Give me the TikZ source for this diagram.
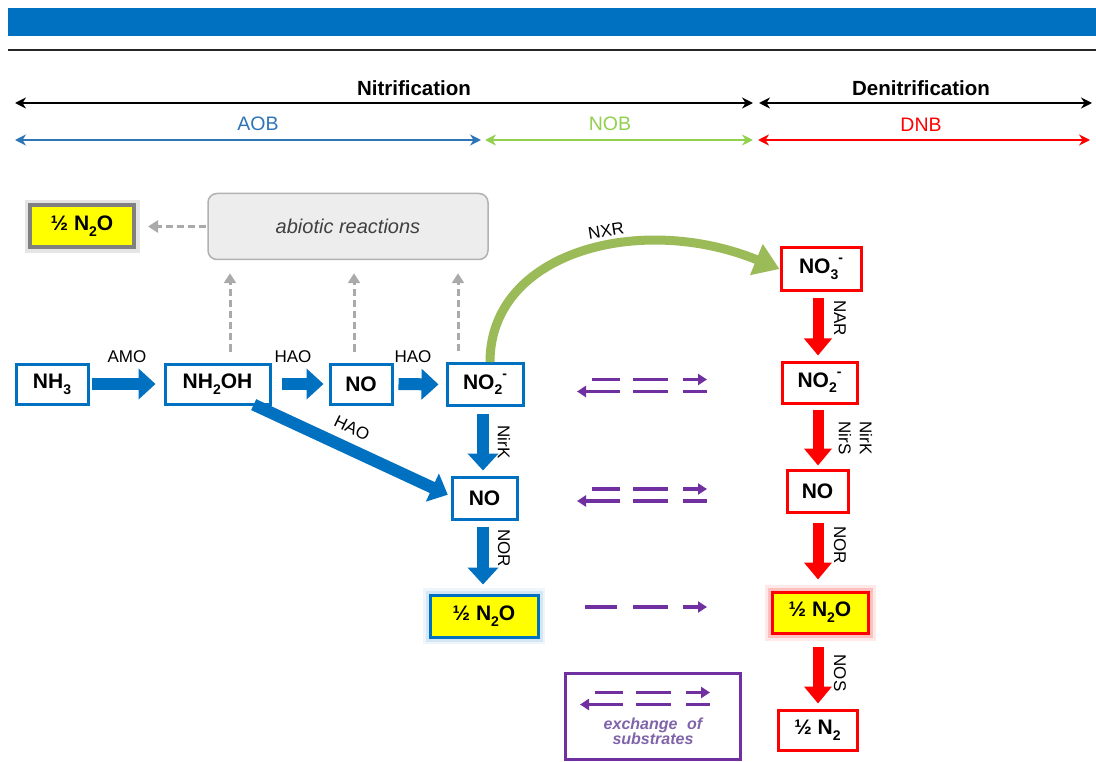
\documentclass[tikz,border=0pt]{standalone}
\usepackage{fontspec}
\setmainfont{Liberation Sans}
\usetikzlibrary{arrows.meta,calc}
\definecolor{bbar}{RGB}{0,112,192}
\definecolor{bl}{RGB}{0,112,192}
\definecolor{rd}{RGB}{255,0,0}
\definecolor{grn}{RGB}{155,187,89}
\definecolor{pu}{RGB}{112,48,160}
\definecolor{pul}{RGB}{128,100,170}
\definecolor{aobc}{RGB}{46,117,182}
\definecolor{nobc}{RGB}{146,208,80}
\definecolor{gy}{RGB}{170,170,170}
\definecolor{yel}{RGB}{255,255,0}
\newcommand\dn[1]{\raisebox{-0.28em}{\fontsize{14}{14}\selectfont #1}}
\newcommand\upm[1]{\raisebox{0.5em}{\fontsize{14}{14}\selectfont #1}}
\tikzset{
  boxb/.style={draw=bl,line width=3pt,fill=white,inner sep=0pt,font=\fontsize{21}{21}\selectfont\bfseries},
  boxr/.style={draw=rd,line width=3pt,fill=white,inner sep=0pt,font=\fontsize{21}{21}\selectfont\bfseries},
  bglow/.style={preaction={draw=bl!40,line width=14pt,opacity=.15},preaction={draw=bl!40,line width=9pt,opacity=.3}},
  rglow/.style={preaction={draw=rd!60,line width=15pt,opacity=.15},preaction={draw=rd!60,line width=9pt,opacity=.3}},
  gglow/.style={preaction={draw=black!50,line width=11pt,opacity=.2}},
  enz/.style={font=\fontsize{17}{17}\selectfont,inner sep=1pt},
  bluearr/.style={draw=bl,line width=12pt,-{Triangle[length=17pt,width=30pt]}},
  redarr/.style={draw=rd,line width=11pt,-{Triangle[length=17pt,width=27pt]}},
  grayarr/.style={draw=gy,line width=3pt,dash pattern=on 7pt off 4pt,-{Triangle[length=10pt,width=12pt]}},
  exl/.style={draw=pu,line width=3.5pt},
  exh/.style={-{Triangle[length=9pt,width=11pt]}},
  hdr/.style={line width=2.5pt,{Stealth[length=11pt,width=11pt]}-{Stealth[length=11pt,width=11pt]}},
  exch/.pic={
    \draw[exl] (-50,-6) -- (-22,-6);
    \draw[exl] (-9,-6) -- (26,-6);
    \draw[exl,exh] (41,-6) -- (65,-6);
    \draw[exl,exh] (-22,6) -- (-65,6);
    \draw[exl] (-9,6) -- (26,6);
    \draw[exl] (41,6) -- (65,6);
  }
}
\begin{document}
\begin{tikzpicture}[x=1pt,y=-1pt]
\useasboundingbox (0,0) rectangle (1096,762);
\fill[white] (0,0) rectangle (1096,762);
% title bar and rule
\fill[bbar] (8,8) rectangle (1096,36);
\draw[line width=1.8pt,black!85] (8,50) -- (1096,50);
% headers
\coordinate (n1) at (15,103); \coordinate (n2) at (753,103);
\coordinate (d1) at (759,103); \coordinate (d2) at (1092,103);
\draw[hdr,black] (n1) -- (n2);
\draw[hdr,black] (d1) -- (d2);
\node[font=\fontsize{20.5}{20.5}\selectfont\bfseries] (tnit) at (414,88) {Nitrification};
\node[font=\fontsize{20.5}{20.5}\selectfont\bfseries] (tden) at (921,88) {Denitrification};
\coordinate (a1) at (15,140); \coordinate (a2) at (481,140);
\coordinate (b1) at (485,140); \coordinate (b2) at (753,140);
\coordinate (c1) at (758,140); \coordinate (c2) at (1090,140);
\draw[hdr,aobc] (a1) -- (a2);
\draw[hdr,nobc] (b1) -- (b2);
\draw[hdr,rd] (c1) -- (c2);
\node[font=\fontsize{19.5}{19.5}\selectfont,text=aobc] (taob) at (258,124) {AOB};
\node[font=\fontsize{19.5}{19.5}\selectfont,text=nobc] (tnob) at (610,124) {NOB};
\node[font=\fontsize{19.5}{19.5}\selectfont,text=rd] (tdnb) at (921,125) {DNB};
% abiotic
\node[draw=black!30,fill=black!7,rounded corners=9pt,line width=1.5pt,minimum width=280pt,minimum height=66pt,font=\fontsize{20}{20}\selectfont\itshape,text=black!75] (abio) at (348,226.5) {abiotic reactions};
\node[draw=black!50,fill=yel,line width=4pt,gglow,inner sep=0pt,minimum width=104pt,minimum height=42pt,font=\fontsize{21}{21}\selectfont\bfseries] (n2oa) at (82,226.5) {½ N\dn{2}O};
% blue nodes
\node[boxb,minimum width=72pt,minimum height=40pt] (nh3) at (52,384) {NH\dn{3}};
\node[boxb,minimum width=105pt,minimum height=40pt] (nh2oh) at (217.5,384) {NH\dn{2}OH};
\node[boxb,minimum width=62pt,minimum height=40pt] (no1) at (361,384) {NO};
\node[boxb,minimum width=76pt,minimum height=42pt] (no2b) at (485,384.5) {NO\dn{2}\upm{-}};
\node[boxb,minimum width=65pt,minimum height=42pt] (nob) at (484.5,498) {NO};
\node[boxb,bglow,fill=yel,minimum width=108pt,minimum height=42pt] (n2ob) at (484,616) {½ N\dn{2}O};
% red nodes
\node[boxr,minimum width=80pt,minimum height=43pt] (no3r) at (821,269) {NO\dn{3}\upm{-}};
\node[boxr,minimum width=75pt,minimum height=41pt] (no2r) at (819.5,382.5) {NO\dn{2}\upm{-}};
\node[boxr,minimum width=61pt,minimum height=42pt] (nor) at (817.5,491) {NO};
\node[boxr,rglow,fill=yel,minimum width=96pt,minimum height=41pt] (n2or) at (820,612.5) {½ N\dn{2}O};
\node[boxr,minimum width=79pt,minimum height=40pt] (n2r) at (817.5,730) {½ N\dn{2}};
% blue arrows
\draw[bluearr,shorten <=2pt,shorten >=8pt] (nh3.east) -- (nh2oh.west);
\draw[bluearr,shorten <=10pt,shorten >=5pt] (nh2oh.east) -- (no1.west);
\draw[bluearr,shorten <=5pt,shorten >=7pt] (no1.east) -- (no2b.west);
\draw[bluearr,shorten <=-2pt,shorten >=3pt] ([xshift=-16pt]nh2oh.south east) -- ([yshift=2pt]nob.west);
\draw[bluearr,shorten <=7pt,shorten >=5pt] ([xshift=-2pt]no2b.south) -- ([xshift=-2pt]no2b.south |- nob.north);
\draw[bluearr,shorten <=6pt,shorten >=9pt] ([xshift=-1.5pt]nob.south) -- ([xshift=-1.5pt]nob.south |- n2ob.north);
\node[enz] (lamo) at (127,357) {AMO};
\node[enz] (lhao1) at (293,357) {HAO};
\node[enz] (lhao2) at (413,357) {HAO};
\node[enz,rotate=-26] (lhao3) at (352,428) {HAO};
\node[enz,rotate=-90] (lnirk) at (504,442) {NirK};
\node[enz,rotate=-90] (lnorb) at (504,548) {NOR};
% green NXR
\draw[draw=grn,line width=9pt,-{Triangle[length=25pt,width=32pt]}] ([xshift=5pt]no2b.north) .. controls (490,252) and (640,212) .. (no3r.west);
\node[enz,rotate=9] (lnxr) at (606,231) {NXR};
% gray dashed
\draw[grayarr,shorten <=11pt,shorten >=13pt] ([xshift=12.5pt]nh2oh.north) -- ([xshift=12.5pt]nh2oh.north |- abio.south);
\draw[grayarr,shorten <=11pt,shorten >=13pt] ([xshift=-7pt]no1.north) -- ([xshift=-7pt]no1.north |- abio.south);
\draw[grayarr,shorten <=11pt,shorten >=13pt] ([xshift=-27pt]no2b.north) -- ([xshift=-27pt]no2b.north |- abio.south);
\draw[grayarr,shorten <=1pt,shorten >=12pt] (abio.west) -- (n2oa.east);
% red arrows
\draw[redarr,shorten <=6pt,shorten >=5pt] ([xshift=-3pt]no3r.south) -- ([xshift=-3pt]no3r.south |- no2r.north);
\draw[redarr,shorten <=5pt,shorten >=3pt] ([xshift=-1.5pt]no2r.south) -- ([xshift=-1.5pt]no2r.south |- nor.north);
\draw[redarr,shorten <=9pt,shorten >=11pt] ([xshift=0.5pt]nor.south) -- ([xshift=0.5pt]nor.south |- n2or.north);
\draw[redarr,shorten <=12pt,shorten >=5pt] ([xshift=-2pt]n2or.south) -- ([xshift=-2pt]n2or.south |- n2r.north);
\node[enz,rotate=-90] (lnar) at (840,318) {NAR};
\node[enz,rotate=-90] (lnirs) at (845,438) {NirS};
\node[enz,rotate=-90] (lnirk2) at (866,438) {NirK};
\node[enz,rotate=-90] (lnorr) at (840,545) {NOR};
\node[enz,rotate=-90] (lnos) at (840,673) {NOS};
% exchanges
\pic at (642,385.5) {exch};
\pic at (642,495) {exch};
\draw[exl] (585,607) -- (617,607);
\draw[exl] (633,607) -- (668,607);
\draw[exl,exh] (683,607) -- (707,607);
% legend
\node[draw=pu,line width=3pt,minimum width=175pt,minimum height=86pt] (leg) at (653,716) {};
\pic at (645,698.5) {exch};
\node[font=\fontsize{16}{16}\selectfont\bfseries\itshape,text=pul,align=center] (legt) at (653,731) {exchange\hspace{0.6em}of\\[-1pt]substrates};
\end{tikzpicture}
\end{document}
